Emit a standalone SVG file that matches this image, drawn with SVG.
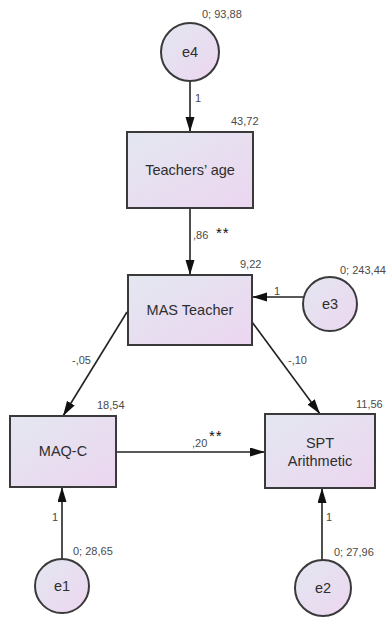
<svg xmlns="http://www.w3.org/2000/svg" width="387" height="617" viewBox="0 0 387 617">
<defs>
<linearGradient id="g" x1="0" y1="0" x2="1" y2="1">
<stop offset="0" stop-color="#e3e7f0"/>
<stop offset="1" stop-color="#ecd6f0"/>
</linearGradient>
<marker id="arr" markerUnits="userSpaceOnUse" markerWidth="16" markerHeight="10" refX="15" refY="4.5" orient="auto">
<path d="M0,0 L15,4.5 L0,9 z" fill="#111"/>
</marker>
</defs>
<style>
.box{fill:url(#g);stroke:#3a3a3a;stroke-width:2}
.node{font-family:"Liberation Sans",Arial,sans-serif;font-size:14.5px;fill:#2e2e2e;text-anchor:middle}
.lbl{font-family:"Liberation Sans",Arial,sans-serif;font-size:11px;fill:#4a4a4a}
.star{font-family:"Liberation Sans",Arial,sans-serif;font-size:15px;fill:#111;letter-spacing:1px}
.edge{stroke:#222;stroke-width:1.6;fill:none;marker-end:url(#arr)}
</style>
<g id="connectors">
<line class="edge" x1="190" y1="81" x2="190" y2="132"/>
<line class="edge" x1="190" y1="208" x2="190" y2="275"/>
<line class="edge" x1="304" y1="297" x2="252" y2="297"/>
<line class="edge" x1="127" y1="312" x2="63" y2="416"/>
<line class="edge" x1="252" y1="322" x2="320" y2="414"/>
<line class="edge" x1="116" y1="452" x2="265" y2="452"/>
<line class="edge" x1="62" y1="559" x2="62" y2="487"/>
<line class="edge" x1="322" y1="560" x2="322" y2="488"/>
<text class="lbl" x="195" y="102">1</text>
<text class="lbl" x="193" y="239">,86</text>
<text class="star" x="216" y="238">**</text>
<text class="lbl" x="274" y="295">1</text>
<text class="lbl" x="72" y="364">-,05</text>
<text class="lbl" x="288" y="364">-,10</text>
<text class="lbl" x="192" y="447">,20</text>
<text class="star" x="209" y="441">**</text>
<text class="lbl" x="52" y="521">1</text>
<text class="lbl" x="326" y="521">1</text>
</g>
<g id="e4">
<circle class="box" cx="190" cy="52" r="29"/>
<text class="node" x="190" y="57">e4</text>
<text class="lbl" x="202" y="18">0; 93,88</text>
</g>
<g id="teachers-age">
<rect class="box" x="127" y="132" width="126" height="76"/>
<text class="node" x="190" y="175">Teachers’ age</text>
<text class="lbl" x="231" y="125">43,72</text>
</g>
<g id="mas-teacher">
<rect class="box" x="128" y="275" width="124" height="70"/>
<text class="node" x="190" y="315">MAS Teacher</text>
<text class="lbl" x="240" y="268">9,22</text>
</g>
<g id="e3">
<circle class="box" cx="330" cy="304" r="27"/>
<text class="node" x="330" y="309">e3</text>
<text class="lbl" x="340" y="274">0; 243,44</text>
</g>
<g id="maq-c">
<rect class="box" x="10" y="416" width="106" height="71"/>
<text class="node" x="63" y="456">MAQ-C</text>
<text class="lbl" x="97" y="409">18,54</text>
</g>
<g id="spt-arithmetic">
<rect class="box" x="265" y="414" width="110" height="74"/>
<text class="node" x="320" y="448">SPT</text>
<text class="node" x="320" y="466">Arithmetic</text>
<text class="lbl" x="356" y="408">11,56</text>
</g>
<g id="e1">
<circle class="box" cx="62" cy="586" r="27"/>
<text class="node" x="62" y="591">e1</text>
<text class="lbl" x="73" y="555">0; 28,65</text>
</g>
<g id="e2">
<circle class="box" cx="323" cy="588" r="28"/>
<text class="node" x="323" y="593">e2</text>
<text class="lbl" x="334" y="556">0; 27,96</text>
</g>
</svg>
